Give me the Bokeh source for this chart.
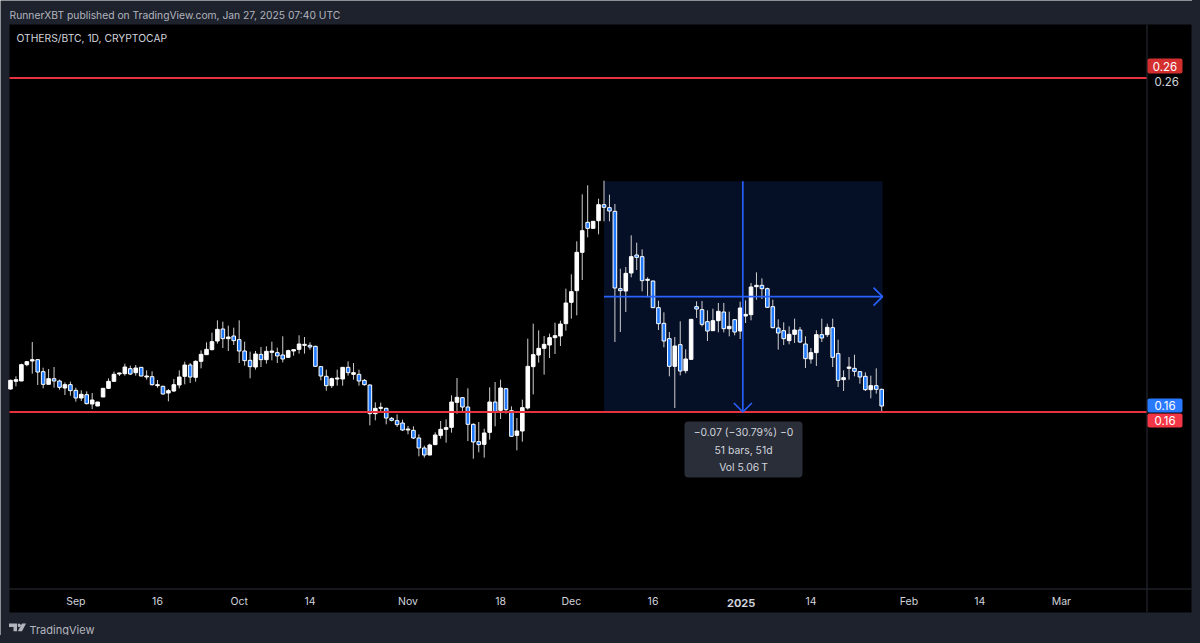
import pandas as pd
from bokeh.embed import file_html
from bokeh.resources import INLINE
from bokeh.plotting import figure
from bokeh.models import (BoxAnnotation, ColumnDataSource, FixedTicker, Label,
                          PolyAnnotation, Range1d)

# ---------- data: daily OTHERS/BTC candles ----------
first_date = "2024-08-20"
open_ = [
    .1669, .1692, .1693, .1742, .1753, .1757, .1721, .1683, .1700, .1693,
    .1672, .1682, .1665, .1642, .1652, .1624, .1618, .1645, .1671, .1692,
    .1714, .1715, .1730, .1718, .1734, .1705, .1706, .1679, .1677, .1657,
    .1663, .1681, .1707, .1741, .1704, .1752, .1772, .1787, .1813, .1849,
    .1820, .1828, .1817, .1783, .1755, .1735, .1773, .1757, .1779, .1778,
    .1771, .1764, .1783, .1788, .1800, .1800, .1797, .1736, .1707, .1679,
    .1699, .1699, .1734, .1713, .1713, .1695, .1681, .1595, .1611, .1611,
    .1581, .1574, .1567, .1546, .1545, .1522, .1492, .1471, .1502, .1530,
    .1548, .1554, .1629, .1643, .1615, .1563, .1511, .1503, .1539, .1630,
    .1605, .1670, .1604, .1530, .1543, .1612, .1736, .1771, .1791, .1801,
    .1823, .1828, .1865, .1929, .1964, .2079, .2169, .2151, .2174, .2222,
    .2213, .2202, .1970, .1963, .2017, .2071, .2066, .1995, .1993, .1913,
    .1866, .1820, .1737, .1802, .1724, .1758, .1916, .1907, .1871, .1844,
    .1874, .1900, .1850, .1877, .1843, .1888, .1892, .1976, .1980, .1970,
    .1916, .1852, .1844, .1814, .1833, .1846, .1804, .1759, .1778, .1832,
    .1832, .1853, .1775, .1697, .1731, .1731, .1721, .1707, .1667, .1679,
    .1668,
]
high = [
    .1697, .1707, .1745, .1753, .1810, .1759, .1733, .1729, .1735, .1697,
    .1689, .1691, .1673, .1665, .1662, .1657, .1630, .1671, .1701, .1721,
    .1718, .1745, .1739, .1741, .1735, .1725, .1722, .1696, .1679, .1669,
    .1699, .1725, .1751, .1747, .1755, .1785, .1809, .1838, .1875, .1871,
    .1859, .1853, .1875, .1811, .1781, .1783, .1795, .1797, .1811, .1793,
    .1827, .1787, .1789, .1830, .1825, .1809, .1799, .1737, .1727, .1703,
    .1727, .1735, .1752, .1747, .1727, .1699, .1683, .1629, .1628, .1613,
    .1585, .1593, .1577, .1558, .1557, .1533, .1499, .1505, .1539, .1573,
    .1578, .1650, .1702, .1645, .1671, .1566, .1570, .1550, .1674, .1690,
    .1697, .1671, .1617, .1582, .1637, .1820, .1865, .1845, .1828, .1835,
    .1868, .1874, .1970, .2013, .2112, .2253, .2280, .2173, .2240, .2294,
    .2252, .2224, .2030, .2035, .2130, .2108, .2088, .2004, .1994, .1934,
    .1899, .1840, .1825, .1872, .1788, .1878, .1932, .1933, .1905, .1910,
    .1927, .1927, .1901, .1879, .1931, .1935, .1987, .2019, .2001, .1973,
    .1937, .1878, .1869, .1857, .1880, .1855, .1827, .1792, .1845, .1880,
    .1865, .1880, .1817, .1725, .1765, .1772, .1721, .1719, .1709, .1731,
    .1670,
]
low = [
    .1667, .1677, .1693, .1737, .1715, .1681, .1671, .1683, .1673, .1667,
    .1651, .1649, .1631, .1633, .1623, .1609, .1618, .1645, .1669, .1691,
    .1708, .1709, .1711, .1709, .1707, .1697, .1679, .1673, .1652, .1632,
    .1660, .1671, .1683, .1687, .1691, .1731, .1771, .1785, .1805, .1792,
    .1783, .1801, .1747, .1739, .1701, .1727, .1735, .1745, .1755, .1747,
    .1749, .1763, .1769, .1775, .1775, .1787, .1737, .1695, .1664, .1672,
    .1679, .1679, .1709, .1697, .1679, .1679, .1560, .1575, .1597, .1563,
    .1572, .1555, .1543, .1533, .1519, .1467, .1463, .1470, .1501, .1520,
    .1508, .1538, .1595, .1601, .1513, .1460, .1479, .1463, .1517, .1557,
    .1579, .1595, .1527, .1485, .1511, .1607, .1653, .1748, .1712, .1762,
    .1774, .1798, .1844, .1880, .1890, .1996, .2124, .2150, .2133, .2172,
    .2172, .1810, .1840, .1900, .2004, .2026, .1962, .1944, .1912, .1846,
    .1794, .1707, .1612, .1710, .1716, .1757, .1882, .1857, .1813, .1843,
    .1839, .1839, .1827, .1830, .1819, .1867, .1875, .1937, .1939, .1912,
    .1851, .1787, .1801, .1803, .1807, .1807, .1732, .1745, .1738, .1810,
    .1825, .1735, .1675, .1663, .1697, .1707, .1685, .1663, .1641, .1655,
    .1599,
]
close = [
    .1695, .1697, .1742, .1751, .1757, .1720, .1683, .1700, .1693, .1674,
    .1682, .1664, .1642, .1653, .1625, .1636, .1630, .1671, .1692, .1713,
    .1717, .1735, .1714, .1732, .1708, .1708, .1682, .1682, .1654, .1664,
    .1682, .1705, .1741, .1705, .1752, .1773, .1788, .1811, .1848, .1820,
    .1825, .1814, .1783, .1754, .1736, .1774, .1757, .1782, .1783, .1768,
    .1759, .1784, .1787, .1804, .1803, .1795, .1737, .1708, .1679, .1700,
    .1702, .1734, .1718, .1718, .1693, .1682, .1595, .1611, .1614, .1582,
    .1575, .1562, .1546, .1549, .1522, .1492, .1471, .1501, .1531, .1548,
    .1553, .1630, .1644, .1615, .1563, .1510, .1502, .1537, .1630, .1601,
    .1672, .1607, .1527, .1543, .1613, .1737, .1772, .1791, .1803, .1823,
    .1829, .1864, .1927, .1961, .2079, .2144, .2151, .2172, .2222, .2214,
    .2203, .1972, .1964, .2016, .2066, .2064, .1994, .1998, .1913, .1865,
    .1813, .1737, .1798, .1723, .1759, .1878, .1909, .1863, .1843, .1874,
    .1902, .1850, .1857, .1840, .1912, .1893, .1975, .1980, .1970, .1914,
    .1853, .1837, .1820, .1833, .1846, .1810, .1760, .1778, .1832, .1822,
    .1854, .1764, .1695, .1703, .1735, .1722, .1705, .1667, .1679, .1668,
    .1618,
]

tick_dates = ["2024-09-01", "2024-09-16", "2024-10-01", "2024-10-14", "2024-11-01",
              "2024-11-18", "2024-12-01", "2024-12-16", "2025-01-01", "2025-01-14",
              "2025-02-01", "2025-02-14", "2025-03-01"]
tick_labels = ["Sep", "16", "Oct", "14", "Nov", "18", "Dec", "16", "", "14", "Feb", "14", "Mar"]
year_tick_date = "2025-01-01"
year_tick_label = "2025"

level_top = 0.2602
level_bottom = 0.16
axis_tick_price = 0.2592
axis_tick_label = "0.26"
measure_first_bar = 109
measure_last_bar = 160
measure_high = 0.2292
measure_low = 0.16
measure_lines = ["\u22120.07 (\u221230.79%) \u22120", "51 bars, 51d", "Vol 5.06\u202fT"]

header_text = "RunnerXBT published on TradingView.com, Jan 27, 2025 07:40 UTC"
title_text = "OTHERS/BTC, 1D, CRYPTOCAP"
brand_text = "TradingView"

# ---------- palette ----------
OUTER = "#1e222d"
DIVIDER = "#2a2e39"
RED_LINE = "#e5343f"
BLUE_TOOL = "#2962ff"
BLUE_BODY = "#1f7aff"
WICK = "#cfcfcf"
FONT = "Inter"
TXT = "#d1d4dc"
MUTED = "#b2b5be"

# ---------- geometry: picture pixels <-> data ----------
FIG_W, FIG_H = 1192, 635
PANE_L, PANE_R, PANE_T, PANE_B = 9, 1146, 24, 588
PANEL_R, PANEL_B = 1191, 612
PX_PER_DAY = 5.445
FIRST_BAR_PX = 10.0
PRICE_PER_PX = 0.0003
BASE_Y_PX = 411.5


def dx(px):
    return (px - FIRST_BAR_PX) / PX_PER_DAY


def dy(py):
    return level_bottom + (BASE_Y_PX - py) * PRICE_PER_PX


# the frame spans the whole canvas, so that nothing around the pane is clipped
p = figure(width=FIG_W, height=FIG_H, output_backend="svg", toolbar_location=None,
           x_range=Range1d(dx(0), dx(FIG_W)), y_range=Range1d(dy(FIG_H), dy(0)),
           y_axis_location="right",
           min_border_left=0, min_border_right=0, min_border_top=0, min_border_bottom=0,
           background_fill_color=OUTER, border_fill_color=OUTER,
           styles={"box-shadow": f"0 0 0 8px {OUTER}"})
p.outline_line_color = None
p.grid.visible = False


def box(l, r, t, b, color, level="underlay", radius=0):
    a = BoxAnnotation(left=l, right=r, top=t, bottom=b, left_units="canvas",
                      right_units="canvas", top_units="canvas", bottom_units="canvas",
                      fill_color=color, fill_alpha=1, line_color=None, level=level,
                      border_radius=radius)
    p.add_layout(a)
    return a


def text(s, px, py, color=TXT, size="10.4px", align="center", style="normal"):
    p.add_layout(Label(x=px, y=py, x_units="canvas", y_units="canvas", text=s,
                       text_color=color, text_font=FONT, text_font_size=size,
                       text_align=align, text_baseline="middle", text_font_style=style,
                       level="overlay"))


# black chart pane with its time scale and price scale
box(PANE_L, PANEL_R, PANE_T, PANEL_B, "#000000")
box(PANE_R, PANE_R + 1, PANE_T, PANEL_B, DIVIDER)
box(PANE_L, PANEL_R, PANE_B, PANE_B + 1, DIVIDER)

# axes
origin = pd.Timestamp(first_date)
tick_days = [(pd.Timestamp(d) - origin).days for d in tick_dates]
xa = p.xaxis[0]
xa.fixed_location = dy(PANE_B)
xa.ticker = FixedTicker(ticks=tick_days)
xa.major_label_overrides = dict(zip(tick_days, tick_labels))
ya = p.yaxis[0]
ya.fixed_location = dx(PANE_R)
ya.ticker = FixedTicker(ticks=[axis_tick_price])
ya.major_label_overrides = {axis_tick_price: axis_tick_label}
for ax in (xa, ya):
    ax.major_tick_line_color = None
    ax.minor_tick_line_color = None
    ax.axis_line_color = None
    ax.major_tick_out = 0
    ax.major_tick_in = 0
    ax.minor_tick_out = 0
    ax.minor_tick_in = 0
    ax.major_label_text_color = TXT
    ax.major_label_text_font = FONT
xa.major_label_text_font_size = "10.5px"
xa.major_label_standoff = 6
ya.major_label_text_font_size = "11.5px"
ya.major_label_standoff = 8

# measuring tool background
p.quad(left=[measure_first_bar], right=[measure_last_bar + 0.15], top=[measure_high],
       bottom=[measure_low], fill_color="#050f26", line_color=None)

# candles
days = list(range(len(close)))
src = ColumnDataSource(dict(
    x=days, high=high, low=low,
    top=[max(o, c) for o, c in zip(open_, close)],
    bottom=[min(o, c) for o, c in zip(open_, close)],
    fill=["#ffffff" if c >= o else BLUE_BODY for o, c in zip(open_, close)],
))
p.segment(x0="x", y0="high", x1="x", y1="low", source=src, line_color=WICK, line_width=1)
p.vbar(x="x", width=0.66, top="top", bottom="bottom", source=src, fill_color="fill",
       line_color="#ffffff", line_width=1)

# horizontal levels
p.segment(x0=[dx(PANE_L)] * 2, x1=[dx(PANE_R)] * 2, y0=[level_top, level_bottom],
          y1=[level_top, level_bottom], line_color=RED_LINE, line_width=1.8)

# measuring tool cross with open arrow heads
mid_x = (measure_first_bar + measure_last_bar) / 2
mid_y = (measure_high + measure_low) / 2
wing_days = 9 / PX_PER_DAY
wing_price = 9 * PRICE_PER_PX
tip_x = measure_last_bar + 0.15
p.segment(x0=[measure_first_bar, mid_x], y0=[mid_y, measure_high], x1=[tip_x, mid_x],
          y1=[mid_y, measure_low], line_color=BLUE_TOOL, line_width=1.6)
p.multi_line(xs=[[tip_x - wing_days, tip_x, tip_x - wing_days],
                 [mid_x - wing_days, mid_x, mid_x + wing_days]],
             ys=[[mid_y + wing_price, mid_y, mid_y - wing_price],
                 [measure_low + wing_price, measure_low, measure_low + wing_price]],
             line_color=BLUE_TOOL, line_width=1.6)

# measurement tooltip
box(684, 802, 421, 477, DIVIDER, level="overlay", radius=4)
for s, py in zip(measure_lines, (432, 449.5, 466.5)):
    text(s, 743, py)

# price badges
box(1147, 1182, 58, 73, "#d32f2f", level="overlay", radius=2)
text(axis_tick_label, 1164.5, 65.7, "#ffffff", "11.5px")
box(1147, 1182, 398, 412, "#2979ff", level="overlay", radius=2)
text("0.16", 1164.5, 405.2, "#ffffff", "11.5px")
box(1147, 1182, 413, 427, "#f23645", level="overlay", radius=2)
text("0.16", 1164.5, 420.2, "#ffffff", "11.5px")

# year tick, bold
text(year_tick_label, FIRST_BAR_PX + (pd.Timestamp(year_tick_date) - origin).days * PX_PER_DAY + 1,
     602, size="11px", style="bold")

# page texts
text(header_text, 9, 14, MUTED, "10.3px", "left")
text(title_text, 16, 37, TXT, "10.3px", "left")
text(brand_text, 29, 629, MUTED, "11px", "left")

# brand logo
logo_polys = [
    [(8.5, 623), (16.5, 623), (16.5, 630.7), (13, 630.7), (13, 626.5), (8.5, 626.5)],
    [(21.5, 623), (25.5, 623), (21.5, 630.7), (17.3, 630.7)],
    [(17.3, 623.6), (18.4, 622.9), (19.8, 623.6), (20.4, 624.8), (19.8, 626), (18.4, 626.7), (17.3, 626)],
]
for poly in logo_polys:
    p.add_layout(PolyAnnotation(xs=[a for a, _ in poly], ys=[b for _, b in poly],
                                xs_units="canvas", ys_units="canvas",
                                fill_color=MUTED, fill_alpha=1, line_color=None, level="overlay"))

open("out.html", "w").write(file_html(p, INLINE))
